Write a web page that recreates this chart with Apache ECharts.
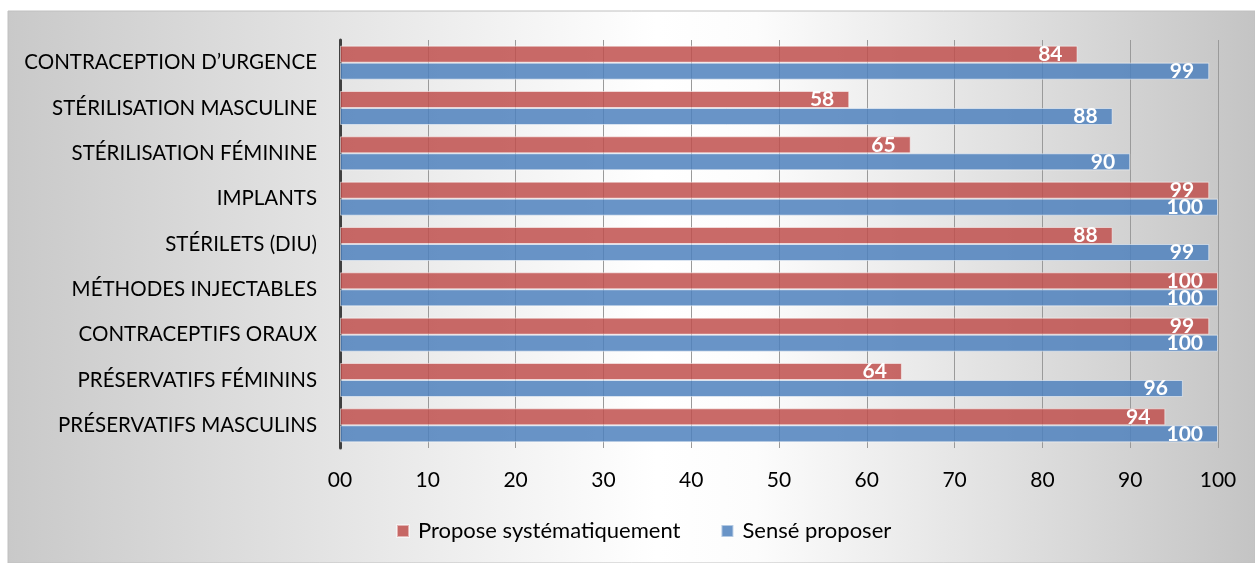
<!DOCTYPE html>
<html>
<head>
<meta charset="utf-8">
<script src="https://cdn.jsdelivr.net/npm/echarts@6/dist/echarts.min.js"></script>
<style>
    html, body { margin: 0; padding: 0; background: #ffffff; }
    #chart { width: 1255px; height: 563px; }
</style>
</head>
<body>
<div id="chart"></div>
<script>
// categories, bottom to top as ECharts lays them out
var categories = [
    'PRÉSERVATIFS MASCULINS',
    'PRÉSERVATIFS FÉMININS',
    'CONTRACEPTIFS ORAUX',
    'MÉTHODES INJECTABLES',
    'STÉRILETS (DIU)',
    'IMPLANTS',
    'STÉRILISATION FÉMININE',
    'STÉRILISATION MASCULINE',
    'CONTRACEPTION D’URGENCE'
];
var proposeValues = [94, 64, 99, 100, 88, 99, 65, 58, 84];
var senseValues = [100, 96, 100, 100, 99, 100, 90, 88, 99];
var tickLabels = ['00', '10', '20', '30', '40', '50', '60', '70', '80', '90', '100'];
var seriesNames = ['Propose systématiquement', 'Sensé proposer'];

var myChart = echarts.init(document.getElementById('chart'));
var font = 'Lato';

var barLabel = {
    show: true,
    position: 'insideRight',
    distance: 15,
    color: '#ffffff',
    fontFamily: font,
    fontWeight: 'bold',
    fontSize: 21,
    padding: [3, 0, 0, 0]
};

var option = {
    animation: false,
    graphic: [{
        type: 'rect',
        z: -10,
        silent: true,
        shape: {x: 8, y: 11, width: 1247, height: 552},
        style: {
            fill: {
                type: 'linear', x: 0, y: 0, x2: 1, y2: 0,
                colorStops: [
                    {offset: 0, color: '#c9c9c9'},
                    {offset: 0.52, color: '#ffffff'},
                    {offset: 0.6, color: '#fcfcfc'},
                    {offset: 1, color: '#c4c4c4'}
                ]
            },
            stroke: '#c0c0c0',
            lineWidth: 1
        }
    }],
    grid: {left: 340, right: 37, top: 40, bottom: 115},
    legend: {
        data: seriesNames,
        bottom: 16,
        left: 391,
        itemWidth: 12,
        itemHeight: 12,
        itemGap: 40,
        icon: 'rect',
        textStyle: {fontFamily: font, fontSize: 22, color: '#000000', padding: [0, 0, 0, 4]}
    },
    xAxis: {
        type: 'value',
        min: 0,
        max: 100,
        interval: 10,
        axisLine: {show: false},
        axisTick: {show: false},
        splitLine: {lineStyle: {color: '#9a9a9a', width: 1}},
        axisLabel: {
            margin: 22,
            fontFamily: font,
            fontSize: 21,
            color: '#000000',
            formatter: function (v) {
                return tickLabels[Math.round(v / 10)];
            }
        }
    },
    yAxis: {
        type: 'category',
        data: categories,
        axisLine: {lineStyle: {color: '#404040', width: 3}},
        axisTick: {show: false},
        axisLabel: {margin: 23, fontFamily: font, fontSize: 20.5, color: '#000000'}
    },
    series: [
        {
            name: seriesNames[0],
            type: 'bar',
            data: proposeValues,
            barWidth: 17,
            barGap: '0%',
            itemStyle: {color: 'rgba(192,80,77,0.85)', borderColor: 'rgba(255,255,255,0.5)', borderWidth: 1},
            label: barLabel
        },
        {
            name: seriesNames[1],
            type: 'bar',
            data: senseValues,
            barWidth: 17,
            barGap: '0%',
            itemStyle: {color: 'rgba(79,129,189,0.85)', borderColor: 'rgba(255,255,255,0.5)', borderWidth: 1},
            label: barLabel
        }
    ]
};
myChart.setOption(option);
</script>
</body>
</html>
